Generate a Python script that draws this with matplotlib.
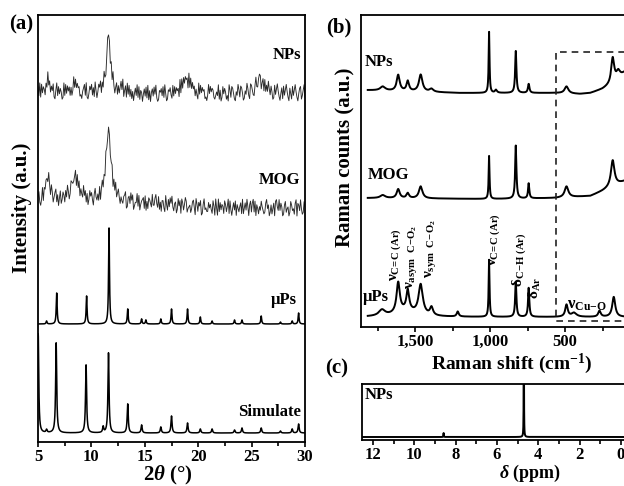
import numpy as np
import matplotlib
matplotlib.use('Agg')
import matplotlib.pyplot as plt
from matplotlib.ticker import MultipleLocator, FuncFormatter

plt.rcParams['font.family'] = ['Liberation Serif', 'DejaVu Serif']
plt.rcParams['font.weight'] = 'bold'
plt.rcParams['mathtext.fontset'] = 'custom'
plt.rcParams['mathtext.rm'] = 'Liberation Serif'
plt.rcParams['mathtext.it'] = 'Liberation Serif:italic:bold'
plt.rcParams['mathtext.bf'] = 'Liberation Serif:bold'

# ---------------- (a) XRD data (2theta in degrees, intensity in a.u.) ----------------
SIM_POS = [5.02, 5.8, 6.7, 9.5, 11.1, 11.6, 13.4, 14.7, 16.5, 17.5, 19.0, 20.2, 21.3, 23.4, 24.1, 25.9, 27.7, 28.8, 29.4]
SIM_H   = [99, 3, 90, 68, 6, 80, 29, 8, 6, 17, 10, 4, 4, 3, 5, 5, 2, 4, 9]

MUPS_POS = [5.8, 6.75, 9.55, 11.65, 13.4, 14.7, 15.1, 16.5, 17.5, 19.0, 20.2, 21.3, 23.4, 24.1, 25.9, 27.7, 28.8, 29.4]
MUPS_H   = [3, 31, 28, 96, 15, 5, 4, 5, 15, 15, 7, 3, 4, 4, 8, 2, 3, 11]

MOG_POS = [5.9, 8.5, 11.6]
MOG_H   = [26, 22, 70]
MOG_W   = [0.2, 0.5, 0.3]
MOG_BASE_X = [5, 11, 16, 20, 30]
MOG_BASE_Y = [0, -2, -3, -7, -8]
MOG_NOISE = ("58203917463085296147926048137517395028644691827053"
             "29471603857306942518058261943761480739258415326790"
             "16739580244928035671805176429337942815066209417385"
             "93156028470862597134513784096275801693422746318509"
             "40927365186259183047380642571914739506827928064153"
             "85312794602614708953937501682450286341790763941285")

NPS_POS = [5.9, 8.4, 11.6, 12.9, 18.9, 25.8]
NPS_H   = [12, 7, 56, 4, 15, 13]
NPS_W   = [0.2, 0.3, 0.22, 0.2, 0.5, 0.5]
NPS_BASE_X = [5, 12, 15, 30]
NPS_BASE_Y = [0, 0, -2, -1]
NPS_NOISE = ("72918364051937264810592736401928374615029384756120"
             "46829103758261940375816293047561829304716258390471"
             "93826150473928165047382916057384920165738294016573"
             "18273645091827364509283746152093847561203948576213"
             "53916028475130962874105396287401539620874105932687"
             "04718263952740183695204718369520741836952047813692")

# ---------------- (b) Raman data (shift in cm-1) ----------------
MUPS_R_POS = [1720, 1612, 1548, 1560, 1462, 1390, 1215, 1006, 828, 742, 490, 440, 270, 175]
MUPS_R_H   = [6, 30, 20, 6, 30, 8, 5, 57, 35, 29, 12, 4, 6, 20]
MUPS_R_W   = [25, 13, 11, 80, 17, 12, 8, 3.5, 5, 5, 10, 20, 10, 12]

MOG_R_POS = [1715, 1612, 1548, 1462, 1006, 828, 742, 490, 182]
MOG_R_H   = [3, 9, 5, 12, 43, 53, 15, 11, 26]
MOG_R_W   = [20, 12, 10, 14, 3.5, 5, 5, 15, 14]
MOG_R_BASE_X = [1860, 1000, 560, 330, 250, 180, 100, 0]
MOG_R_BASE_Y = [1, 0, 1, 3, 8, 13, 18, 20]

NPS_R_POS = [1715, 1612, 1548, 1462, 1390, 1006, 960, 828, 742, 490, 182, 145]
NPS_R_H   = [4, 16, 10, 17, 3, 61, 3, 42, 9, 7, 25, 7]
NPS_R_W   = [20, 12, 10, 14, 15, 3.5, 8, 5, 6, 15, 12, 14]
NPS_R_BASE_X = [1860, 1200, 560, 400, 330, 250, 200, 150, 100, 0]
NPS_R_BASE_Y = [3, 0, 0, -1, 0, 4, 8, 14, 21, 24]

# ---------------- (c) 1H NMR data (ppm) ----------------
NMR_POS = [4.70, 8.58]
NMR_H   = [150, 4]
NMR_W   = [0.007, 0.01]


def lorentz_sum(x, pos, hgt, hw):
    y = np.zeros_like(x)
    for p, h, w in zip(pos, hgt, hw):
        y += h * w ** 2 / ((x - p) ** 2 + w ** 2)
    return y


W, H = 624, 486
fig = plt.figure(figsize=(W / 100, H / 100), dpi=100)


def ax_px(l, t, r, b):
    return fig.add_axes([l / W, 1 - b / H, (r - l) / W, (b - t) / H])


def ftext(x, y, s, **kw):
    fig.text(x / W, 1 - y / H, s, ha='center', va='center', **kw)


def style(ax):
    for sp in ax.spines.values():
        sp.set_linewidth(1.3)
    ax.set_yticks([])
    ax.tick_params(which='both', direction='out', width=1.2, labelsize=12, pad=1.5)
    ax.tick_params(which='major', length=3.5)
    ax.tick_params(which='minor', length=3)


# ---------------- panel (a) ----------------
axa = ax_px(38, 15, 305, 442)
style(axa)
axa.set_xlim(5, 30)
axa.set_ylim(0, 427)
axa.xaxis.set_major_locator(MultipleLocator(5))
axa.xaxis.set_minor_locator(MultipleLocator(2.5))

xa = np.linspace(5, 30, 5001)
sim = lorentz_sum(xa, SIM_POS, SIM_H, [0.06] * len(SIM_POS))
mups = lorentz_sum(xa, MUPS_POS, MUPS_H, [0.05] * len(MUPS_POS))
axa.plot(xa, 9 + sim, color='black', lw=1.1)
axa.plot(xa, 118 + mups, color='black', lw=1.1)

d_mog = np.array([int(c) for c in MOG_NOISE]) - 4.5
xm = np.linspace(5, 30, len(d_mog))
mog = np.interp(xm, MOG_BASE_X, MOG_BASE_Y) + lorentz_sum(xm, MOG_POS, MOG_H, MOG_W) + 1.8 * d_mog
axa.plot(xm, 242 + mog, color='#2a2a2a', lw=0.65)

d_nps = np.array([int(c) for c in NPS_NOISE]) - 4.5
xn = np.linspace(5, 30, len(d_nps))
nps = np.interp(xn, NPS_BASE_X, NPS_BASE_Y) + lorentz_sum(xn, NPS_POS, NPS_H, NPS_W) + 1.8 * d_nps
axa.plot(xn, 350 + nps, color='#2a2a2a', lw=0.65)

lab = dict(fontsize=12, fontweight='bold')
axa.text(29.6, 387, 'NPs', ha='right', va='center', **lab)
axa.text(29.6, 262, 'MOG', ha='right', va='center', **lab)
axa.text(29.2, 142, 'μPs', ha='right', va='center', **lab)
axa.text(29.6, 30, 'Simulate', ha='right', va='center', **lab)

# ---------------- panel (b) ----------------
axb = ax_px(361, 15, 640, 327)
style(axb)
axb.set_xlim(1860, 0)
axb.set_ylim(0, 312)
axb.xaxis.set_major_locator(MultipleLocator(500))
axb.xaxis.set_minor_locator(MultipleLocator(250))
axb.xaxis.set_major_formatter(FuncFormatter(lambda v, p: f'{v:,.0f}' if v > 0 else ''))

xb = np.linspace(0, 1815, 3631)
axb.plot(xb, 10 + lorentz_sum(xb, MUPS_R_POS, MUPS_R_H, MUPS_R_W), color='black', lw=1.4)
axb.plot(xb, 128 + np.interp(xb, MOG_R_BASE_X[::-1], MOG_R_BASE_Y[::-1]) +
         lorentz_sum(xb, MOG_R_POS, MOG_R_H, MOG_R_W), color='black', lw=1.4)
axb.plot(xb, 234 + np.interp(xb, NPS_R_BASE_X[::-1], NPS_R_BASE_Y[::-1]) +
         lorentz_sum(xb, NPS_R_POS, NPS_R_H, NPS_R_W), color='black', lw=1.4)

axb.plot([-50, 560, 560, -50], [275, 275, 6, 6], color='#222222', lw=1.2,
         dashes=(4, 3), clip_on=False)

axb.text(1835, 265, 'NPs', ha='left', va='center', **lab)
axb.text(1815, 152, 'MOG', ha='left', va='center', **lab)
axb.text(1848, 30, 'μPs', ha='left', va='center', **lab)

ann = dict(fontsize=11, rotation=90, ha='center', va='bottom')
axb.text(1630, 46, r'$\mathrm{\nu_{C\!=\!C\ (Ar)}}$', **ann)
axb.text(1525, 38, r'$\mathrm{\nu_{asym\ \ C\!-\!O_2}}$', **ann)
axb.text(1400, 49, r'$\mathrm{\nu_{sym\ \ C\!-\!O_2}}$', **ann)
axb.text(967, 61, r'$\mathrm{\nu_{C\!=\!C\ (Ar)}}$', **ann)
axb.text(806, 40, r'$\mathrm{\delta_{C\!-\!H\ (Ar)}}$', **ann)
axb.text(700, 28, r'$\mathrm{\delta_{Ar}}$', **ann)
axb.text(487, 22, r'$\mathrm{\nu_{Cu\!-\!O}}$', fontsize=12, ha='left', va='center')

# ---------------- panel (c) ----------------
axc = ax_px(362, 384, 640, 440)
style(axc)
axc.set_xlim(12.53, -0.92)
axc.set_ylim(0, 56)
axc.xaxis.set_major_locator(MultipleLocator(2))
axc.xaxis.set_minor_locator(MultipleLocator(1))
xc = np.linspace(-0.9, 12.5, 13401)
axc.plot(xc, 3 + lorentz_sum(xc, NMR_POS, NMR_H, NMR_W), color='black', lw=1.4)
axc.text(12.38, 45, 'NPs', ha='left', va='center', **lab)

# ---------------- figure texts ----------------
ftext(21, 24, '(a)', fontsize=15, fontweight='bold')
ftext(339, 27, '(b)', fontsize=15, fontweight='bold')
ftext(337, 368, '(c)', fontsize=15, fontweight='bold')

ftext(22, 208, 'Intensity (a.u.)', fontsize=15, fontweight='bold', rotation=90)
ftext(345, 157, 'Raman counts (a.u.)', fontsize=15, fontweight='bold', rotation=90)
ftext(168, 475, r'2$\theta$ (°)', fontsize=15, fontweight='bold')
ftext(512, 364, r'Raman shift (cm$^{\mathbf{-1}}$)', fontsize=14, fontweight='bold')
ftext(530, 473, r'$\delta$ (ppm)', fontsize=13, fontweight='bold')

fig.savefig('out.png', dpi=100)
